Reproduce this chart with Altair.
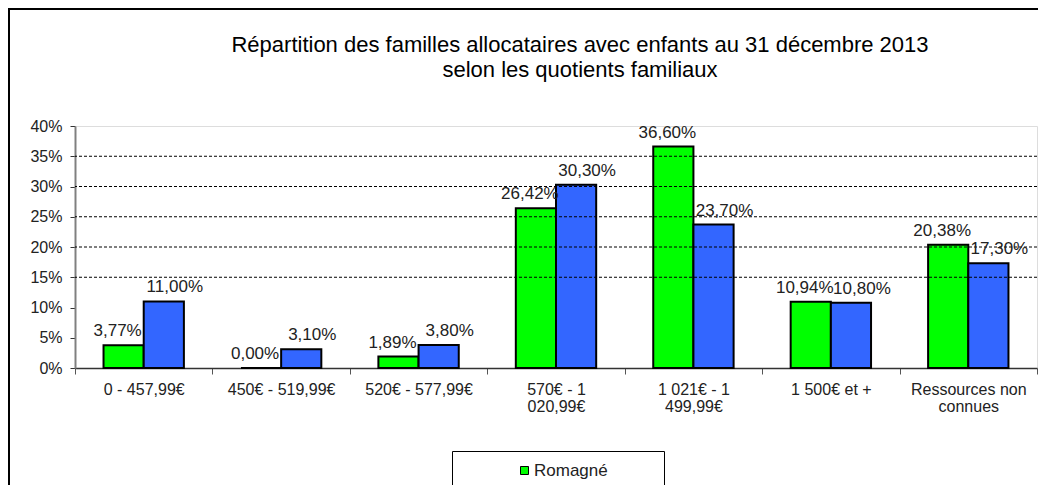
import altair as alt
import pandas as pd

categories = [
    "0 - 457,99€",
    "450€ - 519,99€",
    "520€ - 577,99€",
    "570€  - 1|020,99€",
    "1 021€  - 1|499,99€",
    "1 500€  et +",
    "Ressources non|connues",
]
romagne = [3.77, 0.00, 1.89, 26.42, 36.60, 10.94, 20.38]
reference = [11.00, 3.10, 3.80, 30.30, 23.70, 10.80, 17.30]
series_names = ["Romagné", "Série 2"]
series_colors = ["#00FF00", "#3366FF"]
grid_values = [15, 20, 25, 30, 35]
y_ticks = [0, 5, 10, 15, 20, 25, 30, 35, 40]

rows = []
for i, c in enumerate(categories):
    for s, vals in zip(series_names, [romagne, reference]):
        v = vals[i]
        rows.append({"cat": c, "serie": s, "val": v,
                     "lab": f"{v:.2f}".replace(".", ",") + "%"})
df = pd.DataFrame(rows)
grid_df = pd.DataFrame({"g": grid_values})

FONT = "Liberation Sans"
W, H = 962, 242

x_axis = alt.Axis(labelExpr="split(datum.label, '|')", labelAngle=0,
                  labelFont=FONT, labelFontSize=16, labelColor="#222",
                  labelPadding=7, labelLineHeight=17, tickBand="extent",
                  tickSize=6, tickColor="#555", domainColor="#333",
                  domainWidth=1.5, labelLimit=200, labelOverlap=False, title=None)
y_axis = alt.Axis(values=y_ticks, labelExpr="datum.value + '%'",
                  labelFont=FONT, labelFontSize=16, labelColor="#222",
                  labelPadding=8, tickSize=5, tickColor="#333",
                  domainColor="#808080", domainWidth=2, grid=False,
                  labelOverlap=False, title=None)
x_scale = alt.Scale(paddingInner=0, paddingOuter=0)
y_scale = alt.Scale(domain=[0, 40], nice=False)
xoff = alt.XOffset("serie:N", sort=series_names,
                   scale=alt.Scale(paddingOuter=0.71, paddingInner=0))

bars = alt.Chart(df).mark_bar(stroke="black", strokeWidth=2).encode(
    x=alt.X("cat:N", sort=categories, scale=x_scale, axis=x_axis),
    xOffset=xoff,
    y=alt.Y("val:Q", scale=y_scale, axis=y_axis),
    color=alt.Color("serie:N", sort=series_names,
                    scale=alt.Scale(domain=series_names, range=series_colors),
                    legend=alt.Legend(values=["Romagné"], title=" ", titleOrient="right",
                                      titlePadding=45, orient="none",
                                      legendX=377, legendY=325,
                                      symbolType="square", symbolSize=64,
                                      symbolStrokeColor="black", symbolStrokeWidth=1,
                                      symbolOffset=53, labelOffset=1,
                                      labelFont=FONT, labelFontSize=17, labelColor="#222",
                                      strokeColor="black", fillColor="white",
                                      padding=11)),
)

def label_layer(serie, dx):
    return alt.Chart(df).transform_filter(
        alt.datum.serie == serie
    ).mark_text(baseline="bottom", dy=-5, dx=dx, font=FONT, fontSize=17,
                color="#222").encode(
        x=alt.X("cat:N", sort=categories, scale=x_scale, axis=x_axis),
        xOffset=xoff,
        y=alt.Y("val:Q", scale=y_scale, axis=y_axis),
        text="lab:N",
    )

labels_g = label_layer(series_names[0], -6)
labels_b = label_layer(series_names[1], 11)

grid = alt.Chart(grid_df).mark_rule(color="black", strokeDash=[3, 2], strokeWidth=1).encode(
    y=alt.Y("g:Q", scale=y_scale, axis=y_axis)
)

frame = alt.Chart(grid_df.head(1)).mark_rect(fill=None, stroke="black", strokeWidth=2).encode(
    x=alt.value(-66), x2=alt.value(W + 200), y=alt.value(-117), y2=alt.value(H + 200)
)

chart = alt.layer(bars, frame, grid, labels_g, labels_b).properties(
    width=W, height=H,
    title=alt.TitleParams(
        text=["Répartition des familles allocataires avec enfants au 31 décembre 2013",
              "selon les quotients familiaux"],
        anchor="middle", frame="group", font=FONT, fontSize=22, fontWeight="normal",
        color="#000", lineHeight=25, offset=-74, dx=24),
    autosize=alt.AutoSizeParams(type="none"),
    padding={"left": 67, "top": 118, "right": 1, "bottom": 117},
).configure_view(stroke="#888", strokeWidth=2).configure(background="white")

chart.save("out.html", embed_options={"renderer": "svg", "actions": False})
